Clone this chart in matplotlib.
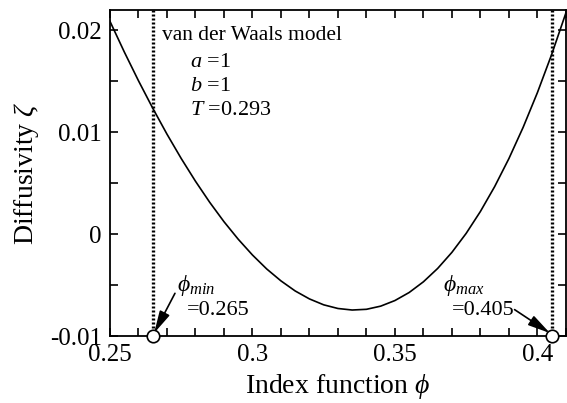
import matplotlib
matplotlib.use("Agg")
import matplotlib.pyplot as plt
from matplotlib.ticker import MultipleLocator

plt.rcParams["font.family"] = ["Liberation Serif", "DejaVu Serif"]
plt.rcParams["mathtext.fontset"] = "custom"
plt.rcParams["mathtext.rm"] = "Liberation Serif"
plt.rcParams["mathtext.it"] = "Liberation Serif:italic"

# index function phi and diffusivity zeta
phi = [0.250, 0.255, 0.260, 0.265, 0.270, 0.275, 0.280, 0.285, 0.290, 0.295,
       0.300, 0.305, 0.310, 0.315, 0.320, 0.325, 0.330, 0.335, 0.340, 0.345,
       0.350, 0.355, 0.360, 0.365, 0.370, 0.375, 0.380, 0.385, 0.390, 0.395,
       0.400, 0.405, 0.410]
zeta = [0.02089, 0.01790, 0.01506, 0.01237, 0.00982, 0.00743, 0.00520, 0.00313,
        0.00123, -0.00049, -0.00204, -0.00341, -0.00458, -0.00557, -0.00635,
        -0.00693, -0.00729, -0.00744, -0.00737, -0.00706, -0.00651, -0.00572,
        -0.00467, -0.00336, -0.00178, 0.00008, 0.00223, 0.00467, 0.00742,
        0.01049, 0.01389, 0.01763, 0.02171]

phi_min = 0.265
phi_max = 0.405
params = ["$a$ =1", "$b$ =1", "$T$ =0.293"]

fig = plt.figure(figsize=(5.67, 4.03), dpi=100)
ax = fig.add_axes([0.194, 0.166, 0.804, 0.809])

ax.plot(phi, zeta, color="black", lw=1.2)
for p in (phi_min, phi_max):
    ax.axvline(p, color="black", lw=2.4, ls=(0, (0.6, 0.6)))
ax.plot([phi_min, phi_max], [-0.01, -0.01], "o", ms=9, mfc="white",
        mec="black", mew=1.2, clip_on=False, zorder=5)

ax.set_xlim(0.25, 0.41)
ax.set_ylim(-0.01, 0.022)
ax.xaxis.set_minor_locator(MultipleLocator(0.01))
ax.yaxis.set_minor_locator(MultipleLocator(0.005))
ax.set_xticks([0.25, 0.3, 0.35, 0.4])
ax.set_xticklabels(["0.25", "0.3", "0.35", "0.4"])
ax.set_yticks([-0.01, 0, 0.01, 0.02])
ax.set_yticklabels(["-0.01", "0", "0.01", "0.02"])
ax.tick_params(which="both", direction="in", top=True, right=True,
               length=6, width=1.2, labelsize=18, pad=6)
for s in ax.spines.values():
    s.set_linewidth(1.3)

ax.set_xlabel("Index function $\\phi$", fontsize=20, labelpad=4)
ax.set_ylabel("Diffusivity $\\zeta$", fontsize=20, labelpad=6)

ax.text(0.2682, 0.01955, "van der Waals model", fontsize=15.5, va="center")
for i, t in enumerate(params):
    ax.text(0.2781, 0.0169 - i * 0.00236, t, fontsize=16, va="center")

arrow = dict(arrowstyle="-|>,head_length=0.9,head_width=0.22", color="black",
             lw=1.2, mutation_scale=15, shrinkA=0, shrinkB=0)

ax.text(0.2735, -0.0050, "$\\phi_{min}$", fontsize=17, va="center")
ax.text(0.2770, -0.00745, "=0.265", fontsize=16, va="center")
ax.annotate("", xy=(phi_min + 0.0005, -0.0097), xytext=(0.2728, -0.0058),
            arrowprops=arrow)

ax.text(0.3670, -0.0050, "$\\phi_{max}$", fontsize=17, va="center")
ax.text(0.3700, -0.00745, "=0.405", fontsize=16, va="center")
ax.annotate("", xy=(phi_max - 0.0006, -0.0097), xytext=(0.3920, -0.0074),
            arrowprops=arrow)

fig.savefig("out.png", dpi=100)
